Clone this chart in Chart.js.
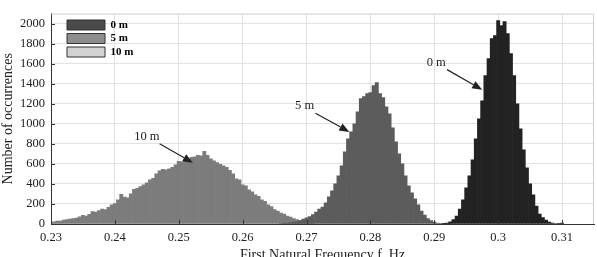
<!DOCTYPE html>
<html>
<head>
<meta charset="utf-8">
<script src="https://cdn.jsdelivr.net/npm/chart.js@4.4.1/dist/chart.umd.min.js"></script>
<style>
  html, body { margin: 0; padding: 0; background: #fff; overflow: hidden; }
  #wrap { width: 597px; height: 264px; }
</style>
</head>
<body>
<div id="wrap"><canvas id="histChart"></canvas></div>
<script>
// histogram bins, width 0.0005 Hz
const binWidth = 0.0005;
const seriesNames = ["0 m", "5 m", "10 m"];

// 0 m: first bin centre 0.2915
const start0 = 0.2915;
const counts0 = [3, 8, 22, 45, 80, 150, 240, 360, 480, 640,
  850, 1050, 1230, 1480, 1650, 1850, 1880, 2030, 1980, 2020,
  1900, 1700, 1480, 1200, 950, 740, 560, 400, 290, 180,
  100, 65, 38, 20, 10, 5, 2, 8];

// 5 m: first bin centre 0.2660
const start5 = 0.2660;
const counts5 = [5, 8, 10, 14, 18, 25, 35, 48, 62, 75,
  95, 120, 150, 170, 210, 270, 330, 400, 480, 580,
  720, 850, 920, 1000, 1120, 1250, 1270, 1300, 1310, 1380,
  1410, 1300, 1260, 1170, 1100, 960, 820, 700, 600, 480,
  380, 310, 250, 190, 130, 90, 55, 35, 18, 10,
  6, 4, 3, 2];

// 10 m: first bin centre 0.2300
const start10 = 0.2300;
const counts10 = [20, 22, 28, 30, 38, 45, 48, 55, 60, 72,
  86, 80, 96, 125, 118, 134, 150, 145, 166, 190,
  204, 240, 297, 268, 260, 300, 345, 355, 373, 390,
  410, 440, 455, 500, 530, 545, 540, 550, 565, 590,
  625, 620, 632, 640, 665, 670, 685, 680, 725, 685,
  650, 630, 612, 595, 580, 565, 535, 500, 450, 440,
  392, 380, 340, 320, 290, 275, 240, 225, 190, 175,
  145, 128, 110, 100, 80, 68, 55, 45, 35, 25,
  15, 8, 4];

const barColors = ["#222222", "#5c5c5c", "#7c7c7c"];
const legendColors = ["#4a4a4a", "#8e8e8e", "#d2d2d2"];

// annotation labels and arrows, in data units (frequency, count)
const notes = [
  { text: "10 m", tx: 0.2450, ty: 871, sx: 0.2470, sy: 800, ex: 0.2522, ey: 612 },
  { text: "5 m", tx: 0.2697, ty: 1177, sx: 0.2714, sy: 1105, ex: 0.2767, ey: 919 },
  { text: "0 m", tx: 0.2903, ty: 1608, sx: 0.2920, sy: 1540, ex: 0.2975, ey: 1340 }
];

const serif = "'Liberation Serif', 'Times New Roman', serif";

function toPoints(start, counts) {
  return counts.map((c, i) => ({ x: +(start + i * binWidth).toFixed(4), y: c }));
}

/* move the legend a little into the plot */
const legendShift = {
  id: "legendShift",
  afterLayout(chart) {
    const lg = chart.legend;
    lg.left += 13.5; lg.right += 13.5;
    lg.top += 17; lg.bottom += 17;
  }
};

/* frame round the plot, inward tick marks, arrows with labels */
const framePlugin = {
  id: "frame",
  afterDatasetsDraw(chart) {
    const ctx = chart.ctx;
    const area = chart.chartArea;
    const xs = chart.scales.x;
    const ys = chart.scales.y;
    ctx.save();
    ctx.strokeStyle = "#cfcfcf";
    ctx.lineWidth = 1;
    ctx.beginPath();
    ctx.moveTo(area.left, area.top + 0.5);
    ctx.lineTo(area.right - 0.5, area.top + 0.5);
    ctx.lineTo(area.right - 0.5, area.bottom);
    ctx.stroke();

    ctx.strokeStyle = "#333";
    ctx.beginPath();
    ys.ticks.forEach((t) => {
      const py = Math.round(ys.getPixelForValue(t.value)) + 0.5;
      ctx.moveTo(area.left, py);
      ctx.lineTo(area.left + 4, py);
    });
    xs.ticks.forEach((t) => {
      const px = Math.round(xs.getPixelForValue(t.value)) + 0.5;
      ctx.moveTo(px, area.bottom);
      ctx.lineTo(px, area.bottom - 4);
    });
    ctx.stroke();

    ctx.fillStyle = "#222";
    ctx.strokeStyle = "#222";
    ctx.font = "12.5px " + serif;
    ctx.textAlign = "center";
    ctx.textBaseline = "middle";
    notes.forEach((n) => {
      ctx.fillText(n.text, xs.getPixelForValue(n.tx), ys.getPixelForValue(n.ty));
      const x1 = xs.getPixelForValue(n.sx), y1 = ys.getPixelForValue(n.sy);
      const x2 = xs.getPixelForValue(n.ex), y2 = ys.getPixelForValue(n.ey);
      const ang = Math.atan2(y2 - y1, x2 - x1);
      const hl = 10, hw = 4;
      const bx = x2 - hl * Math.cos(ang), by = y2 - hl * Math.sin(ang);
      ctx.lineWidth = 1.2;
      ctx.beginPath();
      ctx.moveTo(x1, y1);
      ctx.lineTo(bx, by);
      ctx.stroke();
      ctx.beginPath();
      ctx.moveTo(x2, y2);
      ctx.lineTo(bx + hw * Math.sin(ang), by - hw * Math.cos(ang));
      ctx.lineTo(bx - hw * Math.sin(ang), by + hw * Math.cos(ang));
      ctx.closePath();
      ctx.fill();
    });
    ctx.restore();
  }
};

const ctx = document.getElementById("histChart").getContext("2d");
new Chart(ctx, {
  type: "bar",
  data: {
    datasets: [
      { label: seriesNames[0], data: toPoints(start0, counts0), backgroundColor: barColors[0] },
      { label: seriesNames[1], data: toPoints(start5, counts5), backgroundColor: barColors[1] },
      { label: seriesNames[2], data: toPoints(start10, counts10), backgroundColor: barColors[2] }
    ]
  },
  options: {
    responsive: true,
    maintainAspectRatio: false,
    animation: false,
    layout: { padding: { top: 4, right: 3, left: 0, bottom: 0 } },
    datasets: {
      bar: { grouped: false, barPercentage: 1, categoryPercentage: 1, borderWidth: 0 }
    },
    scales: {
      x: {
        type: "linear",
        min: 0.23,
        max: 0.315,
        offset: false,
        grid: { offset: false, color: "#e2e2e2", drawTicks: false },
        border: { color: "#333" },
        afterFit: (s) => { s.height = 40; },
        ticks: {
          stepSize: 0.01,
          includeBounds: false,
          padding: 6,
          maxRotation: 0,
          autoSkip: false,
          color: "#222",
          font: { family: serif, size: 12.5 },
          callback: (v) => String(+v.toFixed(3))
        },
        title: {
          display: true,
          text: "First Natural Frequency f, Hz",
          color: "#222",
          font: { family: serif, size: 14 },
          padding: { top: 0, bottom: 0 }
        }
      },
      y: {
        min: 0,
        max: 2100,
        grid: { color: "#e2e2e2", drawTicks: false },
        border: { color: "#333" },
        afterFit: (s) => { s.width = 51; },
        ticks: {
          stepSize: 200,
          includeBounds: false,
          padding: 6,
          color: "#222",
          font: { family: serif, size: 12.5 },
          callback: (v) => String(v)
        },
        title: {
          display: true,
          text: "Number of occurrences",
          color: "#222",
          font: { family: serif, size: 14 },
          padding: 0
        }
      }
    },
    plugins: {
      tooltip: { enabled: false },
      legend: {
        position: "chartArea",
        align: "start",
        labels: {
          boxWidth: 38,
          boxHeight: 10,
          padding: 2.5,
          color: "#222",
          font: { family: serif, size: 11, weight: "bold" },
          generateLabels: () => seriesNames.map((name, i) => ({
            text: name,
            fillStyle: legendColors[i],
            strokeStyle: "#333",
            lineWidth: 1,
            datasetIndex: i,
            hidden: false
          }))
        }
      }
    }
  },
  plugins: [legendShift, framePlugin]
});
</script>
</body>
</html>
